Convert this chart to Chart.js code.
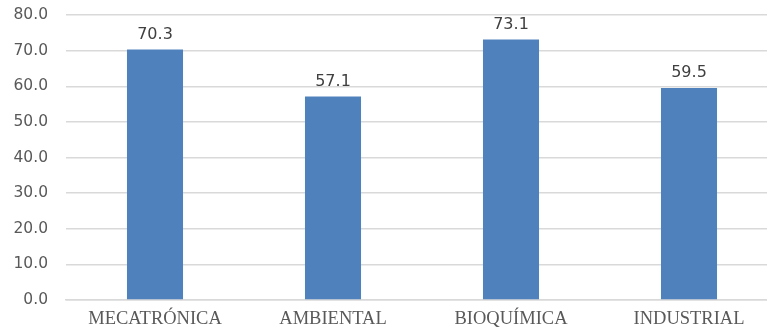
<!DOCTYPE html>
<html>
<head>
<meta charset="utf-8">
<script src="https://cdn.jsdelivr.net/npm/chart.js@4/dist/chart.umd.min.js"></script>
<style>
  html, body { margin: 0; padding: 0; background: #fff; overflow: hidden; }
  /* canvas is a bit wider than the window, so the plot runs past the right edge */
  #wrap { width: 778px; height: 336px; }
</style>
</head>
<body>
<div id="wrap"><canvas id="chart"></canvas></div>
<script>
const careers = ['MECATRÓNICA', 'AMBIENTAL', 'BIOQUÍMICA', 'INDUSTRIAL'];
const scores = [70.3, 57.1, 73.1, 59.5];
const yTicks = [0, 10, 20, 30, 40, 50, 60, 70, 80];

// writes the value just above each bar
const valueLabels = {
  id: 'valueLabels',
  afterDatasetsDraw(chart) {
    const ctx = chart.ctx;
    const meta = chart.getDatasetMeta(0);
    ctx.save();
    ctx.font = '16px "DejaVu Sans", sans-serif';
    ctx.fillStyle = '#404040';
    ctx.textAlign = 'center';
    ctx.textBaseline = 'bottom';
    meta.data.forEach((bar, i) => {
      ctx.fillText(scores[i].toFixed(1), bar.x, bar.y - 7);
    });
    ctx.restore();
  }
};

new Chart(document.getElementById('chart'), {
  type: 'bar',
  data: {
    labels: careers,
    datasets: [{
      data: scores,
      backgroundColor: '#4F81BD',
      borderWidth: 0,
      categoryPercentage: 1,
      barPercentage: 0.315
    }]
  },
  options: {
    responsive: true,
    maintainAspectRatio: false,
    animation: false,
    layout: { padding: { top: 15, right: 0, left: 0, bottom: 0 } },
    plugins: { legend: { display: false }, tooltip: { enabled: false } },
    scales: {
      x: {
        afterFit(axis) {
          axis.height = 36;
          axis.paddingLeft = 0;
          axis.paddingRight = 0;
        },
        grid: { display: false, drawTicks: false },
        border: { color: '#D9D9D9', width: 1.5 },
        ticks: {
          color: '#595959',
          padding: 8,
          maxRotation: 0,
          font: { family: '"Liberation Serif", serif', size: 18.5 }
        }
      },
      y: {
        min: 0,
        max: 80,
        afterBuildTicks(axis) { axis.ticks = yTicks.map(v => ({ value: v })); },
        afterFit(axis) {
          axis.width = 66;
          axis.paddingTop = 0;
          axis.paddingBottom = 0;
        },
        grid: { color: '#D9D9D9', lineWidth: 1.5, drawTicks: false },
        border: { display: false },
        ticks: {
          color: '#595959',
          padding: 18,
          font: { family: '"DejaVu Sans", sans-serif', size: 15.5 },
          callback: v => v.toFixed(1)
        }
      }
    }
  },
  plugins: [valueLabels]
});
</script>
</body>
</html>
